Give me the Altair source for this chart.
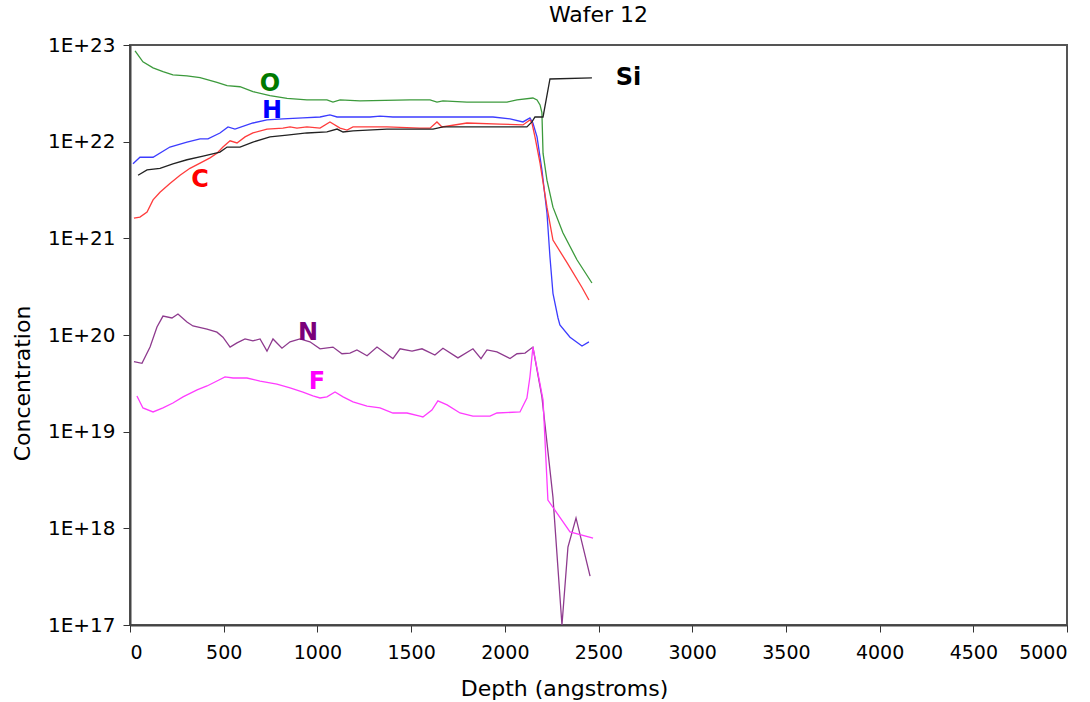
import altair as alt
import pandas as pd

# ---- data (depth in angstroms, concentration) ----
O_depth = [27, 69, 123, 176, 229, 304, 374, 464, 518, 587, 656, 747, 838, 944, 1051, 1083, 1121, 1227, 1494,
           1601, 1638, 1670, 1798, 2012, 2065, 2150, 2172, 2188, 2198, 2204, 2225, 2257, 2310, 2385, 2465]
O_conc = [8.7e22, 6.7e22, 5.8e22, 5.3e22, 4.9e22, 4.8e22, 4.6e22, 4.1e22, 3.8e22, 3.7e22, 3.3e22, 3.0e22, 2.8e22,
          2.7e22, 2.7e22, 2.57e22, 2.7e22, 2.64e22, 2.7e22, 2.7e22, 2.57e22, 2.64e22, 2.57e22, 2.57e22, 2.7e22,
          2.83e22, 2.7e22, 2.4e22, 2.0e22, 7.6e21, 4.0e21, 2.1e21, 1.14e21, 6.0e20, 3.45e20]

H_depth = [16, 53, 123, 213, 304, 374, 416, 480, 523, 560, 656, 731, 816, 923, 1014, 1067, 1105, 1281, 1334, 1403,
           1547, 1617, 1937, 2028, 2097, 2134, 2150, 2172, 2198, 2225, 2241, 2257, 2284, 2294, 2348, 2412, 2449]
H_conc = [5.9e21, 6.9e21, 6.9e21, 8.8e21, 9.9e21, 1.07e22, 1.07e22, 1.23e22, 1.42e22, 1.35e22, 1.56e22, 1.68e22,
          1.72e22, 1.76e22, 1.8e22, 1.89e22, 1.8e22, 1.8e22, 1.84e22, 1.8e22, 1.8e22, 1.8e22, 1.8e22, 1.72e22,
          1.6e22, 1.76e22, 1.56e22, 1.12e22, 5.1e21, 1.83e21, 6.4e20, 2.7e20, 1.5e20, 1.27e20, 9.5e19, 7.7e19, 8.5e19]

C_depth = [21, 53, 91, 123, 160, 213, 267, 320, 374, 427, 464, 496, 534, 571, 614, 656, 731, 816, 854, 891, 944,
           1014, 1067, 1121, 1158, 1190, 1371, 1547, 1601, 1638, 1665, 1798, 1974, 2097, 2134, 2145, 2161, 2188,
           2225, 2257, 2332, 2412, 2449]
C_conc = [1.62e21, 1.66e21, 1.87e21, 2.5e21, 3.0e21, 3.7e21, 4.5e21, 5.3e21, 6.0e21, 6.8e21, 7.6e21, 8.8e21, 1.02e22,
          9.7e21, 1.12e22, 1.23e22, 1.35e22, 1.38e22, 1.42e22, 1.38e22, 1.42e22, 1.38e22, 1.6e22, 1.38e22, 1.32e22,
          1.42e22, 1.42e22, 1.38e22, 1.38e22, 1.6e22, 1.42e22, 1.56e22, 1.52e22, 1.49e22, 1.68e22, 1.56e22, 1.12e22,
          6.0e21, 2.1e21, 9.6e20, 5.6e20, 3.1e20, 2.3e20]

Si_depth = [43, 91, 160, 229, 304, 390, 480, 518, 587, 656, 747, 838, 944, 1051, 1105, 1137, 1190, 1371, 1547, 1617,
            1670, 1798, 2118, 2145, 2161, 2204, 2241, 2465]
Si_conc = [4.5e21, 5.1e21, 5.3e21, 5.9e21, 6.5e21, 7.1e21, 7.8e21, 8.8e21, 8.8e21, 9.9e21, 1.12e22, 1.17e22, 1.23e22,
           1.26e22, 1.35e22, 1.26e22, 1.29e22, 1.35e22, 1.35e22, 1.35e22, 1.42e22, 1.42e22, 1.42e22, 1.6e22, 1.8e22,
           1.8e22, 4.45e22, 4.56e22]

N_depth = [21, 64, 107, 144, 176, 224, 256, 304, 336, 411, 464, 496, 534, 571, 614, 656, 694, 731, 763, 811, 854, 907,
           960, 1014, 1083, 1131, 1174, 1211, 1265, 1318, 1403, 1441, 1505, 1558, 1627, 1670, 1750, 1830, 1873, 1905,
           1958, 2028, 2065, 2108, 2150, 2198, 2257, 2305, 2337, 2380, 2455]
N_conc = [5.3e19, 5.1e19, 7.5e19, 1.21e20, 1.57e20, 1.5e20, 1.65e20, 1.36e20, 1.24e20, 1.15e20, 1.07e20, 9.5e19,
          7.5e19, 8.3e19, 9.1e19, 8.7e19, 9.1e19, 6.8e19, 9.1e19, 7.3e19, 8.5e19, 9.1e19, 8.5e19, 7.2e19, 7.5e19,
          6.4e19, 6.5e19, 7.0e19, 6.1e19, 7.5e19, 5.7e19, 7.2e19, 6.8e19, 7.2e19, 6.2e19, 7.3e19, 5.8e19, 7.2e19,
          5.7e19, 7.0e19, 6.7e19, 5.7e19, 6.4e19, 6.5e19, 7.5e19, 2.3e19, 2.1e18, 1.0e17, 6.4e17, 1.28e18, 3.2e17]

F_depth = [37, 69, 123, 176, 229, 283, 358, 411, 464, 507, 550, 624, 694, 784, 854, 923, 976, 1014, 1051, 1094, 1137,
           1190, 1265, 1334, 1403, 1478, 1547, 1563, 1611, 1643, 1692, 1761, 1830, 1921, 1958, 2081, 2118, 2134, 2150,
           2204, 2230, 2348, 2471]
F_conc = [2.34e19, 1.76e19, 1.6e19, 1.76e19, 1.98e19, 2.29e19, 2.7e19, 2.97e19, 3.34e19, 3.68e19, 3.59e19, 3.59e19,
          3.34e19, 3.11e19, 2.83e19, 2.57e19, 2.34e19, 2.23e19, 2.29e19, 2.57e19, 2.29e19, 2.03e19, 1.84e19, 1.76e19,
          1.56e19, 1.56e19, 1.45e19, 1.42e19, 1.67e19, 2.08e19, 1.89e19, 1.56e19, 1.45e19, 1.45e19, 1.56e19, 1.6e19,
          2.23e19, 3.68e19, 7.5e19, 2.13e19, 1.96e18, 9.2e17, 7.9e17]

elements = ["O", "H", "C", "Si", "N", "F"]
line_colors = ["#3c9a3c", "#3c3cff", "#ff3c3c", "#222222", "#8e3a8e", "#ff3cff"]

label_text = ["O", "H", "C", "N", "F", "Si"]
label_depth = [747, 758, 374, 950, 998, 2660]
label_conc = [3.95e22, 2.1e22, 4.0e21, 1.05e20, 3.27e19, 4.56e22]
label_colors = ["#007a00", "#0000ff", "#ff0000", "#7a007a", "#ff00ff", "#000000"]

x_ticks = [0, 500, 1000, 1500, 2000, 2500, 3000, 3500, 4000, 4500, 5000]
y_ticks = [1e17, 1e18, 1e19, 1e20, 1e21, 1e22, 1e23]

# ---- build tables ----
series = {"O": (O_depth, O_conc), "H": (H_depth, H_conc), "C": (C_depth, C_conc),
          "Si": (Si_depth, Si_conc), "N": (N_depth, N_conc), "F": (F_depth, F_conc)}
rows = []
for name, (d, c) in series.items():
    for i, (dd, cc) in enumerate(zip(d, c)):
        rows.append({"element": name, "depth": dd, "conc": cc, "idx": i})
df = pd.DataFrame(rows)

labels = pd.DataFrame({"text": label_text, "depth": label_depth, "conc": label_conc, "col": label_colors})

FONT = "DejaVu Sans"

x_enc = alt.X("depth:Q", scale=alt.Scale(domain=[0, 5000], nice=False, zero=False),
              axis=alt.Axis(values=x_ticks, format="d", title="Depth (angstroms)", grid=False,
                            labelFont=FONT, labelFontSize=19, labelColor="black", labelPadding=11,
                            tickSize=7, tickColor="#333", domainColor="#444", domainWidth=2,
                            titleFont=FONT, titleFontSize=22, titleFontWeight="normal", titleColor="black",
                            titleX=434, titleY=63, titleBaseline="middle", titleAlign="center"))
y_enc = alt.Y("conc:Q", scale=alt.Scale(type="log", domain=[1e17, 1e23], nice=False),
              axis=alt.Axis(values=y_ticks, title="Concentration", grid=False,
                            labelExpr="'1E+' + format(log(datum.value)/LN10, '.0f')",
                            labelFont=FONT, labelFontSize=20, labelColor="black", labelPadding=8,
                            tickSize=7, tickColor="#333", domainColor="#444", domainWidth=2,
                            titleFont=FONT, titleFontSize=22, titleFontWeight="normal", titleColor="black",
                            titleX=-108, titleY=338, titleBaseline="middle", titleAlign="center",
                            titleAngle=270))

lines = alt.Chart(df).mark_line(strokeWidth=1.3, clip=True).encode(
    x=x_enc, y=y_enc,
    color=alt.Color("element:N", scale=alt.Scale(domain=elements, range=line_colors), legend=None),
    order="idx:Q",
)

texts = alt.Chart(labels).mark_text(font=FONT, fontSize=24, fontWeight="bold", align="center",
                                    baseline="middle").encode(
    x="depth:Q", y="conc:Q", text="text:N", color=alt.Color("col:N", scale=None),
)

chart = alt.layer(lines, texts).properties(
    width=937, height=580,
    title=alt.TitleParams("Wafer 12", font=FONT, fontSize=22, fontWeight="normal", color="black",
                          anchor="middle", offset=8),
    autosize=alt.AutoSizeParams(type="none"),
    padding={"left": 130, "top": 45, "right": 23, "bottom": 77},
).configure_view(stroke="#555", strokeWidth=2)

chart.save("out.html", embed_options={"renderer": "svg", "actions": False})
